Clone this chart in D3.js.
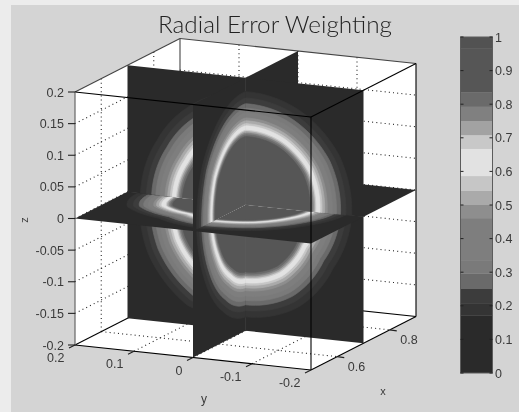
<!DOCTYPE html>
<html>
<head>
<meta charset="utf-8">
<script src="https://cdnjs.cloudflare.com/ajax/libs/d3/7.8.5/d3.min.js"></script>
<style>
html,body{margin:0;padding:0;background:#ececec;}
svg{display:block;}
text{font-family:"Liberation Sans",Arial,sans-serif;fill:#3a3a3a;font-size:12.5px;}
</style>
</head>
<body>
<svg id="chart" width="519" height="412"></svg>
<script>
const titleText = "Radial Error Weighting";
const xDomain = [0.5, 0.9], yDomain = [0.2, -0.2], zDomain = [-0.2, 0.2];
const xTicks = [0.6, 0.8];
const yTicks = [0.2, 0.1, 0, -0.1, -0.2];
const zTicks = [0.2, 0.15, 0.1, 0.05, 0, -0.05, -0.1, -0.15, -0.2];
const barTicks = [0, 0.1, 0.2, 0.3, 0.4, 0.5, 0.6, 0.7, 0.8, 0.9, 1];
const sliceX = 0.7, sliceY = 0, sliceZ = 0;

// colour bands: bandEdges[i]..bandEdges[i+1] is painted bandGrays[i]
const bandEdges = [0, 0.17, 0.208, 0.25, 0.295, 0.336, 0.461, 0.5, 0.542, 0.586, 0.667, 0.708, 0.75, 0.792, 0.836, 0.967, 1];
const bandGrays = ["#2a2a2a", "#343434", "#3c3c3c", "#6a6a6a", "#7a7a7a", "#7e7e7e", "#8e8e8e", "#aaaaaa", "#c6c6c6", "#e2e2e2", "#c8c8c8", "#a2a2a2", "#808080", "#6a6a6a", "#565656", "#525252"];
// distance of each contour (bandEdges[1..]) from the bright ring, data units
const edgeOffsets = [0.058, 0.048, 0.039, 0.032, 0.025, 0.0165, 0.012, 0.0075, 0.004, -0.003, -0.005, -0.0075, -0.010, -0.013, -1];

// ring radius at each in-plane angle, data units
const ringAngles = [0, 30, 60, 90, 120, 150, 180, 210, 240, 270, 300, 330, 360];
const ringX = [0.122, 0.126, 0.124, 0.120, 0.116, 0.115, 0.120, 0.132, 0.138, 0.120, 0.120, 0.114, 0.122];
const ringY = [0.120, 0.120, 0.120, 0.120, 0.126, 0.132, 0.128, 0.120, 0.116, 0.120, 0.120, 0.120, 0.120];
const ringZ = [0.112, 0.116, 0.120, 0.120, 0.120, 0.120, 0.124, 0.126, 0.108, 0.120, 0.120, 0.114, 0.112];

// ---- projection through scales
const xSx = d3.scaleLinear().domain(xDomain).range([0, 105]);
const xSy = d3.scaleLinear().domain(xDomain).range([0, -53.5]);
const ySx = d3.scaleLinear().domain(yDomain).range([75, 311]);
const ySy = d3.scaleLinear().domain(yDomain).range([0, 25]);
const zSy = d3.scaleLinear().domain(zDomain).range([345, 92]);
const project = (x, y, z) => [xSx(x) + ySx(y), xSy(x) + ySy(y) + zSy(z)];
const barY = d3.scaleLinear().domain([0, 1]).range([373, 37]);
const line = d3.line();

const svg = d3.select("#chart");
svg.append("rect").attr("x", 11).attr("y", 5).attr("width", 508).attr("height", 407).attr("fill", "#d4d4d4");

const plot = svg.append("g").style("filter", "blur(0.5px)");

const [x0, x1] = xDomain, [y0, y1] = yDomain, [z0, z1] = zDomain;
// white back of the box
plot.append("path")
  .attr("d", line([project(x0,y0,z1), project(x1,y0,z1), project(x1,y1,z1), project(x1,y1,z0), project(x0,y1,z0), project(x0,y0,z0)]) + "Z")
  .attr("fill", "#ffffff");

// dotted grid on the three back walls
const grid = plot.append("g").attr("fill", "none").attr("stroke", "#222").attr("stroke-width", 1.1).attr("stroke-dasharray", "1 3.2");
const seg = (g, a, b) => g.append("path").attr("d", line([a, b]));
zTicks.slice(1, -1).forEach(z => {
  seg(grid, project(x0,y0,z), project(x1,y0,z));
  seg(grid, project(x1,y0,z), project(x1,y1,z));
});
xTicks.forEach(x => {
  seg(grid, project(x,y0,z0), project(x,y0,z1));
  seg(grid, project(x,y0,z0), project(x,y1,z0));
});
yTicks.slice(1, -1).forEach(y => {
  seg(grid, project(x1,y,z0), project(x1,y,z1));
  seg(grid, project(x0,y,z0), project(x1,y,z0));
});

// back edges of the box
const backEdges = plot.append("g").attr("fill", "none").attr("stroke", "#444").attr("stroke-width", 1.1);
seg(backEdges, project(x0,y0,z1), project(x1,y0,z1));
seg(backEdges, project(x1,y0,z1), project(x1,y1,z1));
seg(backEdges, project(x1,y0,z1), project(x1,y0,z0));
const floorEdges = plot.append("g").attr("fill", "none").attr("stroke", "#000").attr("stroke-width", 1.1);
seg(floorEdges, project(x1,y1,z1), project(x1,y1,z0));
seg(floorEdges, project(x1,y0,z0), project(x1,y1,z0));
seg(floorEdges, project(x0,y0,z0), project(x1,y0,z0));

// ---- the three slices, drawn as quadrants from far to near
const planes = {
  X: { ring: ringX, to3d: (a, b) => project(sliceX, sliceY - a, sliceZ + b) },
  Y: { ring: ringY, to3d: (a, b) => project(sliceX + a, sliceY, sliceZ + b) },
  Z: { ring: ringZ, to3d: (a, b) => project(sliceX + b, sliceY - a, sliceZ) }
};
const quadrantOrder = [
  ["X", 180], ["Y", 270], ["X", 270], ["Y", 180],
  ["Z", 90], ["Z", 0], ["Z", 180], ["Z", 270],
  ["X", 90], ["Y", 0], ["X", 0], ["Y", 90]
];
const extent = 0.2;
const slices = plot.append("g");
quadrantOrder.forEach(([name, start]) => {
  const p = planes[name];
  const ringAt = d3.scaleLinear().domain(ringAngles).range(p.ring);
  const sa = start === 90 || start === 180 ? -1 : 1;
  const sb = start >= 180 ? -1 : 1;
  const g = slices.append("g");
  // outermost band fills the whole quadrant
  g.append("path")
    .attr("d", line([p.to3d(0,0), p.to3d(sa*extent,0), p.to3d(sa*extent,sb*extent), p.to3d(0,sb*extent)]) + "Z")
    .attr("fill", bandGrays[0]);
  edgeOffsets.forEach((off, i) => {
    const pts = [p.to3d(0,0)];
    let any = false;
    d3.range(start, start + 90.01, 3).forEach(t => {
      const r = ringAt(t) + off;
      if (r > 0) any = true;
      const rr = Math.max(r, 0), rad = t * Math.PI / 180;
      pts.push(p.to3d(rr * Math.cos(rad), rr * Math.sin(rad)));
    });
    if (!any) return;
    g.append("path").attr("d", line(pts) + "Z")
      .attr("fill", bandGrays[i + 1]).attr("stroke", bandGrays[i + 1]).attr("stroke-width", 0.7);
  });
});

// front edges of the box and axis ticks
const front = plot.append("g").attr("fill", "none").attr("stroke", "#000").attr("stroke-width", 1.1);
seg(front, project(x0,y0,z1), project(x0,y1,z1));
seg(front, project(x0,y1,z1), project(x1,y1,z1));
seg(front, project(x0,y1,z1), project(x0,y1,z0));
seg(front, project(x0,y0,z0), project(x0,y1,z0));
seg(front, project(x0,y1,z0), project(x1,y1,z0));
const leftEdge = plot.append("g").attr("fill", "none").attr("stroke", "#666").attr("stroke-width", 1.2);
seg(leftEdge, project(x0,y0,z0), project(x0,y0,z1));

const ticks = plot.append("g").attr("fill", "none").attr("stroke", "#222").attr("stroke-width", 1.1);
zTicks.forEach(z => { const [a, b] = project(x0,y0,z); seg(ticks, [a - 7, b], [a, b]); });
yTicks.forEach(y => { const [a, b] = project(x0,y,z0); seg(ticks, [a - 6, b + 3], [a, b]); });
xTicks.forEach(x => { const [a, b] = project(x,y1,z0); seg(ticks, [a, b], [a + 7, b + 1]); });

// tick labels
const labels = svg.append("g").style("filter", "blur(0.25px)");
zTicks.forEach(z => {
  const [a, b] = project(x0,y0,z);
  labels.append("text").attr("x", a - 11).attr("y", b + 4.5).attr("text-anchor", "end").text(z);
});
yTicks.forEach(y => {
  const [a, b] = project(x0,y,z0);
  labels.append("text").attr("x", a - 10.5).attr("y", b + 17).attr("text-anchor", "end").text(y);
});
xTicks.forEach(x => {
  const [a, b] = project(x,y1,z0);
  labels.append("text").attr("x", a + 10.5).attr("y", b + 14).attr("text-anchor", "start").text(x);
});
labels.append("text").attr("x", 204).attr("y", 403).attr("text-anchor", "middle").style("font-size", "12px").text("y");
labels.append("text").attr("x", 383).attr("y", 395).attr("text-anchor", "middle").style("font-size", "11px").text("x");
labels.append("text").attr("transform", "translate(28,220) rotate(-90)").attr("text-anchor", "middle").style("font-size", "11px").text("z");

// colour bar
const bar = svg.append("g").style("filter", "blur(0.3px)");
bandGrays.forEach((c, i) => {
  bar.append("rect").attr("x", 460.5).attr("width", 32)
    .attr("y", barY(bandEdges[i + 1])).attr("height", barY(bandEdges[i]) - barY(bandEdges[i + 1]))
    .attr("fill", c);
});
bar.append("rect").attr("x", 460.5).attr("y", barY(1)).attr("width", 32).attr("height", barY(0) - barY(1))
  .attr("fill", "none").attr("stroke", "#5c5c5c");
barTicks.forEach(v => {
  const y = barY(v);
  bar.append("path").attr("d", line([[460.5, y], [463.5, y]])).attr("stroke", "#222");
  bar.append("path").attr("d", line([[489.5, y], [492.5, y]])).attr("stroke", "#222");
  labels.append("text").attr("x", 495).attr("y", y + 4.5).text(v);
});

// title
labels.append("text").attr("x", 275).attr("y", 33).attr("text-anchor", "middle")
  .attr("textLength", 234).attr("lengthAdjust", "spacingAndGlyphs")
  .style("font-family", "Lato, 'Open Sans', sans-serif").style("font-size", "24px").style("font-weight", 300).style("fill", "#222")
  .text(titleText);
</script>
</body>
</html>
